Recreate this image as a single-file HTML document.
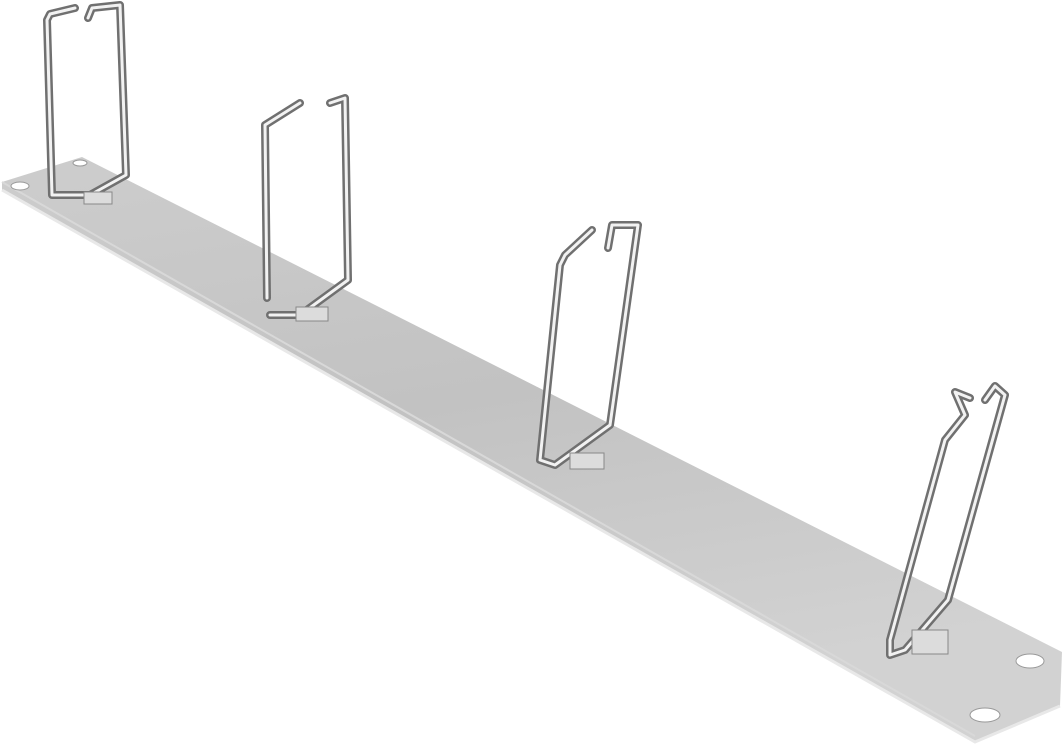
<!DOCTYPE html>
<html><head><meta charset="utf-8"><style>html,body{margin:0;padding:0;background:#fff;}svg{display:block}</style></head>
<body>
<svg width="1063" height="745" viewBox="0 0 1063 745" xmlns="http://www.w3.org/2000/svg">
<defs>
<linearGradient id="pl" x1="0" y1="0" x2="0.3" y2="1">
<stop offset="0" stop-color="#cdcdcd"/><stop offset="0.5" stop-color="#c2c2c2"/><stop offset="1" stop-color="#d2d2d2"/>
</linearGradient>
</defs>
<polygon points="2,182 82,157 1062,652 1060,706 975,742 2,190" fill="url(#pl)"/>
<polyline points="2,190 975,742 1060,706" fill="none" stroke="#e8e8e8" stroke-width="3"/>
<polyline points="2,182 975,736" fill="none" stroke="#d8d8d8" stroke-width="2"/>
<ellipse cx="20" cy="186" rx="9" ry="4" fill="#fff" stroke="#999"/>
<ellipse cx="80" cy="163" rx="7" ry="3" fill="#fff" stroke="#999"/>
<ellipse cx="1030" cy="661" rx="14" ry="7" fill="#fff" stroke="#999"/>
<ellipse cx="985" cy="715" rx="15" ry="7" fill="#fff" stroke="#999"/>
<g fill="none" stroke-linecap="round" stroke-linejoin="round">
<g stroke="#707070" stroke-width="8">
<path d="M75,8 L50,14 L47,20 L52,195 L90,195 L126,175 L120,5 L92,8 L88,18"/>
<path d="M267,298 L265,125 L300,103 M330,103 L345,98 L348,280 L300,315 L270,315"/>
<path d="M592,230 L565,255 L560,265 L540,460 L555,465 L610,425 L638,225 L612,225 L608,248"/>
<path d="M970,398 L955,392 L965,415 L945,440 L890,640 L890,655 L905,650 L948,600 L1005,395 L995,386 L985,400"/>
</g>
<g stroke="#f2f2f2" stroke-width="3">
<path d="M75,8 L50,14 L47,20 L52,195 L90,195 L126,175 L120,5 L92,8 L88,18"/>
<path d="M267,298 L265,125 L300,103 M330,103 L345,98 L348,280 L300,315 L270,315"/>
<path d="M592,230 L565,255 L560,265 L540,460 L555,465 L610,425 L638,225 L612,225 L608,248"/>
<path d="M970,398 L955,392 L965,415 L945,440 L890,640 L890,655 L905,650 L948,600 L1005,395 L995,386 L985,400"/>
</g>
</g>
<g fill="#dcdcdc" stroke="#888">
<rect x="84" y="192" width="28" height="12"/>
<rect x="296" y="307" width="32" height="14"/>
<rect x="570" y="453" width="34" height="16"/>
<rect x="912" y="630" width="36" height="24"/>
</g>
</svg>
</body></html>
